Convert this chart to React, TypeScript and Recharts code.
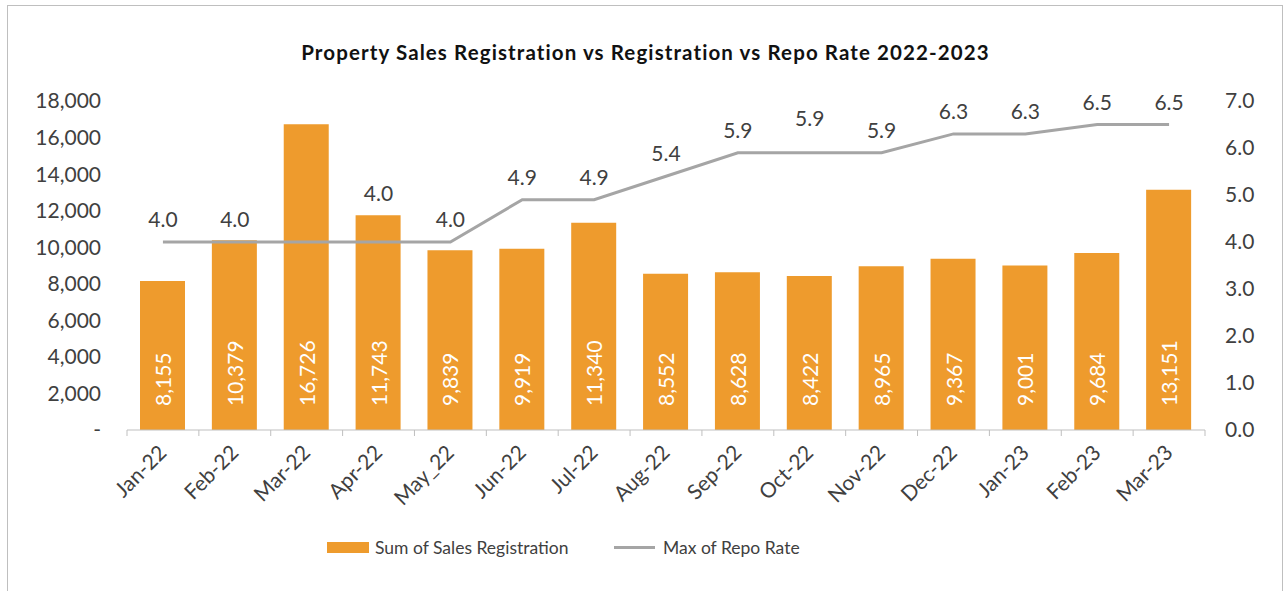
import React from 'react';
import { ComposedChart, Bar, Line, XAxis, YAxis, Legend, LabelList } from 'recharts';

const months = ['Jan-22','Feb-22','Mar-22','Apr-22','May_22','Jun-22','Jul-22','Aug-22','Sep-22','Oct-22','Nov-22','Dec-22','Jan-23','Feb-23','Mar-23'];
const sales = [8155, 10379, 16726, 11743, 9839, 9919, 11340, 8552, 8628, 8422, 8965, 9367, 9001, 9684, 13151];
const repo = [4.0, 4.0, 4.0, 4.0, 4.0, 4.9, 4.9, 5.4, 5.9, 5.9, 5.9, 6.3, 6.3, 6.5, 6.5];
const leftTicks = [0, 2000, 4000, 6000, 8000, 10000, 12000, 14000, 16000, 18000];
const rightTicks = [0, 1, 2, 3, 4, 5, 6, 7];

const data = months.map((m, i) => ({ month: m, sales: sales[i], repo: repo[i] }));

const FONT = 'Lato, "Open Sans", sans-serif';
const TEXT = '#404040';
const ORANGE = '#EE9B2D';
const GREY = '#A5A5A5';
const W = 1285;
const H = 591;
const LEFT = 127;
const RIGHT_W = 80;
const BAND = (W - LEFT - RIGHT_W) / months.length;
const FS = 21;

const XTick = (props: any) => {
  const { x, y, payload, index } = props;
  const tx = x + 5;
  const ty = y + 16;
  return (
    <g>
      <line x1={x - BAND / 2} y1={y - 8} x2={x - BAND / 2} y2={y - 2} stroke="#BFBFBF" strokeWidth={1} />
      {index === months.length - 1 && (
        <line x1={x + BAND / 2} y1={y - 8} x2={x + BAND / 2} y2={y - 2} stroke="#BFBFBF" strokeWidth={1} />
      )}
      <text x={tx} y={ty} textAnchor="end" fontSize={FS} fill={TEXT} fontFamily={FONT} transform={`rotate(-45, ${tx}, ${ty})`}>
        {payload.value}
      </text>
    </g>
  );
};

const BarValue = (props: any) => {
  const { x, y, width, height, value } = props;
  const cx = x + width / 2;
  const cy = y + height - 24;
  return (
    <text x={cx} y={cy} textAnchor="start" dominantBaseline="central" fill="#FFFFFF" fontSize={FS} fontFamily={FONT} transform={`rotate(-90, ${cx}, ${cy})`}>
      {Number(value).toLocaleString('en-US')}
    </text>
  );
};

const LineValue = (props: any) => {
  const { x, y, value, index } = props;
  if (index === 2) return null;
  const lift = index === 3 ? 26 : index === 9 ? 12 : 0;
  return (
    <text x={x} y={y - 15 - lift} textAnchor="middle" fill={TEXT} fontSize={FS} fontFamily={FONT}>
      {Number(value).toFixed(1)}
    </text>
  );
};

const LegendContent = () => (
  <div style={{ display: 'flex', justifyContent: 'flex-start', alignItems: 'center', height: 30, fontFamily: FONT, fontSize: 17.5, color: TEXT, paddingLeft: 327 }}>
    <span style={{ display: 'inline-block', width: 42, height: 11, background: ORANGE, marginRight: 6 }} />
    <span style={{ width: 239 }}>Sum of Sales Registration</span>
    <span style={{ display: 'inline-block', width: 41, height: 3, background: GREY, marginRight: 8 }} />
    <span>Max of Repo Rate</span>
  </div>
);

export default function App() {
  return (
    <div style={{ position: 'absolute', left: 0, top: 0, width: W, height: H, background: '#fff' }}>
      <div style={{ position: 'absolute', left: 7, top: 5, width: 1276, height: 600, border: '1px solid #BFBFBF', boxSizing: 'border-box' }} />
      <div style={{ position: 'absolute', left: 0, top: 40, width: 1291, textAlign: 'center', fontFamily: FONT, fontWeight: 700, fontSize: 20.5, letterSpacing: 1.1, color: '#111' }}>
        Property Sales Registration vs Registration vs Repo Rate 2022-2023
      </div>
      <div style={{ position: 'absolute', left: 0, top: 0 }}>
        <ComposedChart width={W} height={H} data={data} margin={{ top: 101, right: 0, bottom: 29, left: 0 }} barSize={45}>
          <XAxis dataKey="month" height={102} tick={<XTick />} tickLine={false} axisLine={{ stroke: '#BFBFBF' }} interval={0} />
          <YAxis yAxisId="left" width={LEFT} domain={[0, 18000]} ticks={leftTicks} axisLine={false} tickLine={false} tickSize={0} tickMargin={26}
            tick={{ fill: TEXT, fontSize: FS, fontFamily: FONT }} tickFormatter={(v: number) => (v === 0 ? '-' : v.toLocaleString('en-US'))} />
          <YAxis yAxisId="right" orientation="right" width={RIGHT_W} domain={[0, 7]} ticks={rightTicks} axisLine={false} tickLine={false} tickSize={0} tickMargin={20}
            tick={{ fill: TEXT, fontSize: FS, fontFamily: FONT }} tickFormatter={(v: number) => v.toFixed(1)} />
          <Bar yAxisId="left" dataKey="sales" name="Sum of Sales Registration" fill={ORANGE} isAnimationActive={false}>
            <LabelList dataKey="sales" content={<BarValue />} />
          </Bar>
          <Line yAxisId="right" dataKey="repo" name="Max of Repo Rate" stroke={GREY} strokeWidth={3} dot={false} activeDot={false} isAnimationActive={false}>
            <LabelList dataKey="repo" content={<LineValue />} />
          </Line>
          <Legend verticalAlign="bottom" height={30} content={<LegendContent />} />
        </ComposedChart>
      </div>
    </div>
  );
}
